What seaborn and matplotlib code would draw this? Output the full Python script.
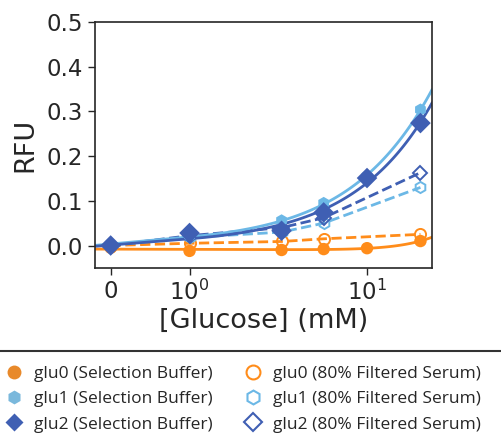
import numpy as np
import matplotlib
matplotlib.use("Agg")
import matplotlib.pyplot as plt
from matplotlib.lines import Line2D
from matplotlib.ticker import NullLocator
import seaborn as sns

# glucose concentrations (mM)
glucose_sb = [0, 1, 3.3, 5.7, 10, 20]
glucose_fs = [0, 1, 3.3, 5.7, 20]

# RFU, selection buffer (filled markers, solid fit)
glu0_sb = [-0.005, -0.012, -0.010, -0.008, -0.006, 0.010]
glu1_sb = [0.000, 0.022, 0.056, 0.095, 0.155, 0.304]
glu2_sb = [0.000, 0.028, 0.033, 0.074, 0.151, 0.274]

# RFU, 80% filtered serum (open markers, dashed)
glu0_fs = [0.000, 0.005, 0.009, 0.015, 0.025]
glu1_fs = [0.000, 0.018, 0.030, 0.050, 0.130]
glu2_fs = [0.000, 0.022, 0.040, 0.062, 0.163]

names = ["glu0", "glu1", "glu2"]
markers = ["o", "h", "D"]
line_colors = ["#ff8c1a", "#6cb8e6", "#3f5fb3"]
fill_colors = ["#e8892a", "#7ab8dc", "#3f5fb3"]

sns.set_style("ticks")
plt.rcParams["font.family"] = ["DejaVu Sans"]

fig = plt.figure(figsize=(5.02, 4.42), dpi=100)
ax = fig.add_axes([0.189, 0.394, 0.672, 0.556])

ax.set_xscale("symlog", linthresh=1, linscale=0.4)
ax.set_xlim(-0.2, 23.3)
ax.set_ylim(-0.05, 0.5)

# serum: dashed connecting lines with open markers
for ys, m, c in zip([glu0_fs, glu1_fs, glu2_fs], markers, line_colors):
    sns.lineplot(x=glucose_fs, y=ys, ax=ax, color=c, linestyle="--", lw=2,
                 marker=m, markersize=8 if m != "D" else 7, markerfacecolor="none",
                 markeredgecolor=c, markeredgewidth=1.4, zorder=2)

# selection buffer: filled markers + fitted curve
for ys, m, lc, fc in zip([glu0_sb, glu1_sb, glu2_sb], markers, line_colors, fill_colors):
    sns.regplot(x=np.array(glucose_sb), y=np.array(ys), ax=ax, scatter=False, ci=None,
                order=2, truncate=False, color=lc, line_kws={"lw": 2, "zorder": 2})
    ax.scatter(glucose_sb, ys, marker=m, s=110 if m == "D" else 80, color=lc,
               edgecolor="none", zorder=3)

ax.set_xlim(-0.2, 23.3)
ax.set_xticks([0, 1, 10])
ax.xaxis.set_minor_locator(NullLocator())
ax.set_yticks([0.0, 0.1, 0.2, 0.3, 0.4, 0.5])
ax.tick_params(labelsize=16.5, length=5, width=1)
for s in ax.spines.values():
    s.set_linewidth(1.2)
ax.set_xlabel("[Glucose] (mM)", fontsize=19.5, labelpad=2)
ax.set_ylabel("RFU", fontsize=19.5, labelpad=6)

# separator line above legend
fig.add_artist(Line2D([0, 1], [1 - 351 / 442] * 2, transform=fig.transFigure,
                      color="#333333", lw=1.5))

handles, labels = [], []
for n, m, c in zip(names, markers, fill_colors):
    handles.append(Line2D([], [], ls="none", marker=m, color=c, markersize=10 if m != "D" else 9,
                          markeredgecolor="none"))
    labels.append(f"{n} (Selection Buffer)")
for n, m, c in zip(names, markers, line_colors):
    handles.append(Line2D([], [], ls="none", marker=m, markerfacecolor="none",
                          markeredgecolor=c, markeredgewidth=1.5,
                          markersize=10 if m != "D" else 9))
    labels.append(f"{n} (80% Filtered Serum)")

fig.legend(handles, labels, ncol=2, loc="upper left", bbox_to_anchor=(5 / 502, 1 - 366 / 442),
           frameon=False, prop={"family": "Open Sans", "size": 12.5},
           borderpad=0, borderaxespad=0, handletextpad=0.65, columnspacing=1.85,
           labelspacing=0.52, handlelength=1.0)

fig.savefig("out.png", dpi=100)
